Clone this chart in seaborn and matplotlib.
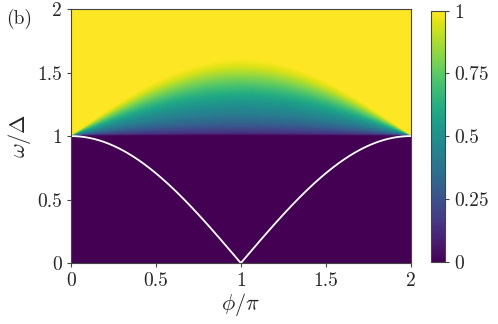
"""Spectral map vs phase difference with Andreev bound state"""
import numpy as np
import pandas as pd
import matplotlib
matplotlib.use("Agg")
import matplotlib.pyplot as plt
import seaborn as sns

# axis ticks / labels
phi_ticks = [0, 0.5, 1, 1.5, 2]
phi_ticklabels = ["0", "0.5", "1", "1.5", "2"]
omega_ticks = [0, 0.5, 1, 1.5, 2]
omega_ticklabels = ["0", "0.5", "1", "1.5", "2"]
cbar_ticks = [0, 0.25, 0.5, 0.75, 1]
cbar_ticklabels = ["0", "0.25", "0.5", "0.75", "1"]

# gap edge and dome height (at phi = pi)
gap_edge = 1.0
dome_height = 0.6

# colour profile across the dome, read along phi = pi
# (fraction of dome height -> value)
profile_frac = [0.0, 0.03, 0.15, 0.28, 0.40, 0.53, 0.67, 0.80, 0.90, 1.0]
profile_val = [0.0, 0.14, 0.30, 0.42, 0.50, 0.60, 0.73, 0.85, 0.94, 1.0]

sns.set_style("ticks")
plt.rcParams["font.family"] = "serif"
plt.rcParams["font.serif"] = ["cmr10", "DejaVu Serif"]
plt.rcParams["mathtext.fontset"] = "cm"
plt.rcParams["axes.formatter.use_mathtext"] = True
plt.rcParams["font.size"] = 13

# build the map
phi = np.linspace(0, 2, 800)
omega = np.linspace(0, 2, 800)
P, W = np.meshgrid(phi, omega)
top = dome_height * np.sin(np.pi * P / 2)
frac = np.where(top > 0, (W - gap_edge) / np.maximum(top, 1e-9), 2.0)
field = np.interp(np.clip(frac, 0, 1), profile_frac, profile_val)
field = np.where(W < gap_edge, 0.0, field)

# bound state
abs_df = pd.DataFrame({"phi": phi, "omega": np.abs(np.cos(np.pi * phi / 2))})

fig = plt.figure(figsize=(4.98, 3.24), dpi=100)
ax = fig.add_axes([0.1426, 0.188, 0.682, 0.784])
cax = fig.add_axes([0.8655, 0.192, 0.028, 0.775])

im = ax.imshow(field, origin="lower", extent=[0, 2, 0, 2], aspect="auto",
               cmap="viridis", vmin=0, vmax=1, interpolation="bilinear")
sns.lineplot(data=abs_df, x="phi", y="omega", color="white", linewidth=1.3,
             ax=ax, legend=False)

ax.set_xlim(0, 2)
ax.set_ylim(0, 2)
ax.set_xticks(phi_ticks)
ax.set_xticklabels(phi_ticklabels)
ax.set_yticks(omega_ticks)
ax.set_yticklabels(omega_ticklabels)
ax.set_xlabel(r"$\phi/\pi$", fontsize=16, labelpad=1)
ax.set_ylabel(r"$\omega/\Delta$", fontsize=16, labelpad=3)
ax.tick_params(direction="out", length=3, width=0.8, labelsize=14, color="#444444")
for s in ax.spines.values():
    s.set_linewidth(0.8)
    s.set_color("#444444")

cb = fig.colorbar(im, cax=cax)
cb.set_ticks(cbar_ticks)
cb.set_ticklabels(cbar_ticklabels)
cb.ax.tick_params(direction="out", length=3, width=0.8, labelsize=14, color="#444444")
cb.outline.set_linewidth(0.8)
cb.outline.set_edgecolor("#444444")

fig.text(0.012, 0.925, "(b)", fontsize=14)

plt.savefig("out.png", dpi=100)
plt.close()
